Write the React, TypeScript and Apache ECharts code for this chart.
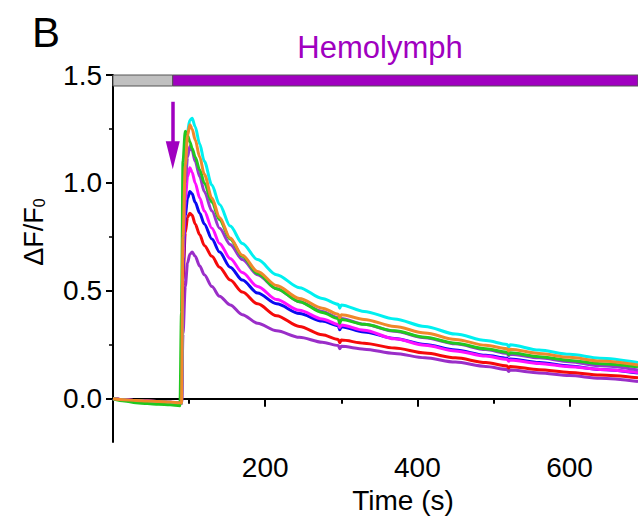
import React, { useEffect, useRef } from "react";
import * as echarts from "echarts";

// Time points (s)
const times = [0, 15, 30, 45, 60, 75, 88, 90, 92, 95, 98, 101, 104, 108, 114, 120, 130, 140, 154, 170, 190, 215, 245, 275, 296, 298, 300, 330, 370, 410, 450, 490, 518, 520, 522, 560, 600, 640, 690];

// ΔF/F0 traces
const cyanTrace = [0.0, -0.005, -0.01, -0.012, -0.014, -0.016, -0.02, -0.02, 0.85, 1.12, 1.24, 1.29, 1.3, 1.26, 1.18, 1.1, 0.99, 0.9, 0.8, 0.72, 0.645, 0.575, 0.515, 0.465, 0.438, 0.42, 0.435, 0.405, 0.37, 0.335, 0.3, 0.27, 0.252, 0.24, 0.25, 0.226, 0.206, 0.188, 0.168];
const orangeTrace = [0.0, -0.004, -0.008, -0.01, -0.012, -0.015, -0.018, -0.02, 0.75, 1.08, 1.22, 1.27, 1.25, 1.2, 1.12, 1.04, 0.93, 0.84, 0.745, 0.665, 0.59, 0.525, 0.465, 0.42, 0.392, 0.375, 0.39, 0.368, 0.335, 0.305, 0.275, 0.248, 0.232, 0.222, 0.23, 0.21, 0.192, 0.175, 0.157];
const greenTrace = [0.0, -0.01, -0.018, -0.022, -0.025, -0.028, -0.032, 0.4, 1.1, 1.24, 1.22, 1.19, 1.16, 1.12, 1.06, 1.0, 0.91, 0.83, 0.74, 0.66, 0.58, 0.51, 0.45, 0.4, 0.372, 0.35, 0.368, 0.345, 0.315, 0.285, 0.258, 0.232, 0.216, 0.205, 0.213, 0.195, 0.178, 0.163, 0.148];
const violetHiTrace = [0.0, -0.004, -0.008, -0.01, -0.013, -0.016, -0.02, -0.02, 0.7, 1.0, 1.12, 1.17, 1.15, 1.1, 1.03, 0.96, 0.87, 0.79, 0.715, 0.645, 0.575, 0.51, 0.45, 0.405, 0.375, 0.36, 0.372, 0.345, 0.313, 0.283, 0.255, 0.228, 0.21, 0.2, 0.207, 0.19, 0.172, 0.153, 0.134];
const magentaTrace = [0.0, -0.004, -0.008, -0.011, -0.013, -0.016, -0.019, -0.02, 0.65, 0.92, 1.03, 1.07, 1.05, 1.0, 0.93, 0.87, 0.79, 0.72, 0.65, 0.585, 0.52, 0.46, 0.41, 0.37, 0.345, 0.33, 0.342, 0.318, 0.278, 0.248, 0.222, 0.198, 0.183, 0.174, 0.18, 0.164, 0.149, 0.136, 0.122];
const blueTrace = [0.0, -0.005, -0.009, -0.012, -0.014, -0.017, -0.02, -0.02, 0.6, 0.85, 0.93, 0.96, 0.95, 0.91, 0.86, 0.81, 0.74, 0.68, 0.61, 0.55, 0.49, 0.44, 0.395, 0.36, 0.338, 0.32, 0.334, 0.31, 0.28, 0.252, 0.226, 0.202, 0.188, 0.178, 0.185, 0.168, 0.152, 0.136, 0.12];
const redTrace = [0.0, -0.004, -0.008, -0.011, -0.014, -0.017, -0.02, -0.02, 0.55, 0.77, 0.84, 0.86, 0.85, 0.81, 0.76, 0.71, 0.66, 0.61, 0.55, 0.495, 0.44, 0.385, 0.335, 0.297, 0.275, 0.26, 0.272, 0.258, 0.235, 0.212, 0.19, 0.168, 0.152, 0.143, 0.15, 0.135, 0.122, 0.11, 0.097];
const violetLowTrace = [0.0, -0.004, -0.008, -0.01, -0.013, -0.016, -0.02, -0.02, 0.3, 0.52, 0.63, 0.67, 0.68, 0.66, 0.615, 0.575, 0.52, 0.475, 0.435, 0.39, 0.35, 0.315, 0.285, 0.262, 0.247, 0.232, 0.243, 0.23, 0.21, 0.19, 0.17, 0.15, 0.136, 0.127, 0.133, 0.12, 0.108, 0.095, 0.08];

// Axis ticks / labels
const yMajorTicks = [0, 0.5, 1.0, 1.5];
const yMinorTicks = [0.25, 0.75, 1.25];
const xMajorTicks = [0, 200, 400, 600];
const xMinorTicks = [100, 300, 500];
const xLabels = [200, 400, 600];

// Stimulus bar / arrow
const stimulusStart = 78.5;
const xMax = 690;
const barBottom = 1.449;
const barTop = 1.507;
const arrowTop = 1.376;
const arrowHeadCenter = 1.128;

const FONT = "'Liberation Sans', Arial, Helvetica, sans-serif";
const PURPLE = "#a000c0";

const traces = [
  { name: "violetLow", data: violetLowTrace, color: "#9a2ec8" },
  { name: "red", data: redTrace, color: "#f50a0a" },
  { name: "blue", data: blueTrace, color: "#0a0af0" },
  { name: "magenta", data: magentaTrace, color: "#ff10ff" },
  { name: "violetHi", data: violetHiTrace, color: "#9a35d0" },
  { name: "cyan", data: cyanTrace, color: "#00f0f0" },
  { name: "green", data: greenTrace, color: "#20c820" },
  { name: "orange", data: orangeTrace, color: "#f0882a" },
];

export default function App() {
  const ref = useRef<HTMLDivElement>(null);

  useEffect(() => {
    document.body.style.margin = "0";
    if (!ref.current) return;
    const chart = echarts.init(ref.current, null, { renderer: "svg" });

    const series: any[] = traces.map((tr, idx) => {
      const s: any = {
        type: "line",
        name: tr.name,
        data: times.map((t, i) => [t, tr.data[i]]),
        showSymbol: false,
        symbol: "none",
        smooth: 0.3,
        smoothMonotone: "x",
        lineStyle: { color: tr.color, width: 3 },
        itemStyle: { color: tr.color },
        emphasis: { disabled: true },
        silent: true,
        z: 2 + idx,
      };
      if (idx === 0) {
        s.markArea = {
          silent: true,
          itemStyle: { borderColor: "#555", borderWidth: 1 },
          data: [
            [
              { xAxis: 0, yAxis: barBottom, itemStyle: { color: "#c0c0c0", borderColor: "#555", borderWidth: 1 } },
              { xAxis: stimulusStart, yAxis: barTop },
            ],
            [
              { xAxis: stimulusStart, yAxis: barBottom, itemStyle: { color: PURPLE, borderColor: "#555", borderWidth: 1 } },
              { xAxis: xMax, yAxis: barTop },
            ],
          ],
        };
        s.markLine = {
          silent: true,
          symbol: ["none", "triangle"],
          symbolSize: [14, 28],
          label: { show: false },
          lineStyle: { color: PURPLE, width: 3.5, type: "solid" },
          data: [[{ coord: [stimulusStart, arrowTop] }, { coord: [stimulusStart, arrowHeadCenter] }]],
        };
      }
      return s;
    });

    chart.setOption({
      animation: false,
      textStyle: { fontFamily: FONT },
      grid: { left: 113, right: 0, top: 75, bottom: 79, containLabel: false },
      xAxis: [
        {
          type: "value",
          min: 0,
          max: xMax,
          axisLine: { show: true, lineStyle: { color: "#000", width: 2 } },
          axisTick: { show: true, customValues: xMajorTicks, length: 8, lineStyle: { color: "#000", width: 2 } },
          axisLabel: { show: true, customValues: xLabels, fontSize: 28, color: "#000", margin: 11, fontFamily: FONT },
          splitLine: { show: false },
        },
        {
          type: "value",
          min: 0,
          max: xMax,
          position: "bottom",
          axisLine: { show: false },
          axisTick: { show: true, customValues: xMinorTicks, length: 5, lineStyle: { color: "#000", width: 2 } },
          axisLabel: { show: false },
          splitLine: { show: false },
        },
      ],
      yAxis: [
        {
          type: "value",
          min: -0.2,
          max: 1.5,
          axisLine: { show: true, lineStyle: { color: "#000", width: 2 } },
          axisTick: { show: true, customValues: yMajorTicks, length: 7, lineStyle: { color: "#000", width: 2 } },
          axisLabel: {
            show: true,
            customValues: yMajorTicks,
            formatter: (v: number) => v.toFixed(1),
            fontSize: 28,
            color: "#000",
            margin: 11,
            fontFamily: FONT,
          },
          splitLine: { show: false },
        },
        {
          type: "value",
          min: -0.2,
          max: 1.5,
          position: "left",
          axisLine: { show: false },
          axisTick: { show: true, customValues: yMinorTicks, length: 4, lineStyle: { color: "#000", width: 1.5 } },
          axisLabel: { show: false },
          splitLine: { show: false },
        },
      ],
      series,
      graphic: [
        {
          type: "text",
          x: 32,
          y: 32,
          style: { text: "B", font: `42px ${FONT}`, fill: "#000", textAlign: "left", textVerticalAlign: "middle" },
          silent: true,
        },
        {
          type: "text",
          x: 380,
          y: 47,
          style: { text: "Hemolymph", font: `31px ${FONT}`, fill: PURPLE, textAlign: "center", textVerticalAlign: "middle" },
          silent: true,
        },
        {
          type: "text",
          x: 403,
          y: 500,
          style: { text: "Time (s)", font: `28px ${FONT}`, fill: "#000", textAlign: "center", textVerticalAlign: "middle" },
          silent: true,
        },
        {
          type: "text",
          x: 34,
          y: 232,
          rotation: Math.PI / 2,
          style: {
            text: "ΔF/F{s|0}",
            fontSize: 27,
            fontFamily: FONT,
            fill: "#000",
            align: "center",
            verticalAlign: "middle",
            rich: { s: { fontSize: 16, fontFamily: FONT, fill: "#000", padding: [10, 0, 0, 0] } },
          },
          silent: true,
        },
      ],
    });

    return () => chart.dispose();
  }, []);

  return <div ref={ref} style={{ width: 638, height: 521 }} />;
}
